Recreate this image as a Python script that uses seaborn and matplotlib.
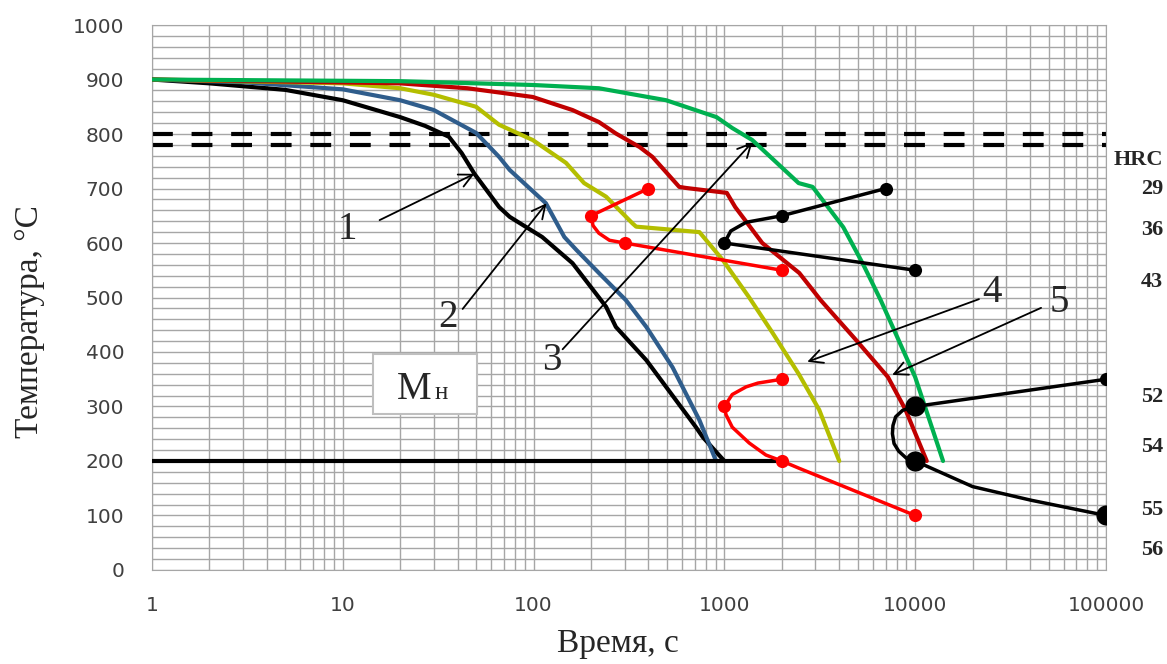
import numpy as np
import matplotlib
matplotlib.use('Agg')
import matplotlib.pyplot as plt
import matplotlib.ticker as mticker
from matplotlib.patches import Rectangle
import seaborn as sns

# curves 1..5 (time, s / temperature, C)
t1 = [1, 2, 5, 10, 20, 27, 36, 42, 49, 66, 75, 111, 160, 240, 270, 390, 495, 710, 770, 1000]
T1 = [900, 893, 881, 862, 831, 815, 795, 765, 727, 666, 648, 611, 563, 483, 446, 385, 336, 262, 244, 200]

t2 = [1, 3, 10, 20, 30, 50, 66, 75, 116, 145, 168, 220, 305, 390, 535, 740, 900]
T2 = [900, 895, 882, 862, 844, 802, 758, 734, 673, 611, 587, 545, 495, 446, 372, 275, 202]

t3 = [1, 10, 20, 30, 50, 66, 99, 148, 184, 240, 330, 345, 740, 980, 1350, 1790, 2450, 3140, 4000]
T3 = [900, 893, 884, 872, 850, 817, 789, 747, 710, 685, 636, 630, 620, 569, 500, 435, 360, 294, 200]

t4 = [1, 20, 45, 99, 160, 220, 270, 360, 420, 580, 630, 1030, 1140, 1580, 2470, 3200, 4900, 7200, 8900, 11500]
T4 = [900, 893, 884, 868, 844, 822, 801, 776, 758, 703, 701, 692, 666, 600, 545, 495, 422, 354, 294, 200]

t5 = [1, 20, 99, 220, 495, 910, 1100, 1400, 2450, 2900, 4200, 5300, 6600, 10000, 14000]
T5 = [900, 897, 890, 884, 862, 831, 811, 789, 710, 703, 629, 563, 495, 354, 200]

# Mн line and A1/A3 dashed levels
t_mn = [1, 2000]
T_mn = [200, 200]
t_lim = [1, 100000]
T_ac3 = [800, 800]
T_ac1 = [780, 780]

# red isothermal series (line path + marker points)
redA_t = [400, 200, 205, 220, 250, 300, 2000]
redA_T = [700, 650, 632, 618, 605, 600, 550]
redA_mt = [400, 200, 300, 2000]
redA_mT = [700, 650, 600, 550]

redB_t = [2000, 1500, 1300, 1100, 1000, 1020, 1100, 1350, 1650, 2000, 2450, 10000]
redB_T = [350, 343, 336, 322, 300, 285, 262, 233, 211, 200, 187, 100]
redB_mt = [2000, 1000, 2000, 10000]
redB_mT = [350, 300, 200, 100]

# black hardness series
blkC_t = [7000, 2000, 1300, 1080, 1000, 10000]
blkC_T = [700, 650, 638, 622, 600, 550]
blkC_mt = [7000, 2000, 1000, 10000]
blkC_mT = [700, 650, 600, 550]

blkD_t = [100000, 10000, 8600, 7900, 7650, 7600, 7750, 8200, 9000, 10000, 20000, 40500, 100000]
blkD_T = [350, 300, 293, 281, 265, 250, 232, 218, 205, 200, 153, 128, 100]
blkD_small_t = [100000]
blkD_small_T = [350]
blkD_big_t = [10000, 10000, 100000]
blkD_big_T = [300, 200, 100]

hrc_labels = ['HRC', '29', '36', '43', '52', '54', '55', '56']
hrc_y = [752, 700, 624, 528, 318, 226, 110, 37]

xticks = [1, 10, 100, 1000, 10000, 100000]

sns.set_style('white')
plt.rcParams['font.family'] = ['DejaVu Sans']

fig, ax = plt.subplots(figsize=(11.67, 6.64), dpi=100)
fig.subplots_adjust(left=0.1302, right=0.9477, bottom=0.1416, top=0.9623)

ax.set_xscale('log')
ax.set_xlim(1, 100000)
ax.set_ylim(0, 1000)

# grid
ax.set_xticks(xticks)
ax.xaxis.set_major_formatter(mticker.FixedFormatter([str(v) for v in xticks]))
ax.xaxis.set_minor_locator(mticker.LogLocator(base=10, subs=range(2, 10), numticks=20))
ax.xaxis.set_minor_formatter(mticker.NullFormatter())
ax.set_yticks(range(0, 1001, 100))
ax.yaxis.set_minor_locator(mticker.MultipleLocator(20))
ax.grid(which='both', color='#a6a6a6', lw=1.0, zorder=0)
ax.set_axisbelow(True)
ax.tick_params(which='both', length=0, labelsize=14.5, labelcolor='#404040')
ax.tick_params(axis='x', pad=19)
ax.tick_params(axis='y', pad=20)
for s in ax.spines.values():
    s.set_color('#a6a6a6')

# dashed critical points
for lv in (T_ac3, T_ac1):
    ax.plot(t_lim, lv, color='black', lw=3, ls=(0, (5, 4.5)), zorder=2)

# main cooling curves
lw = 3
sns.lineplot(x=t1, y=T1, sort=False, estimator=None, color='black', lw=lw, ax=ax, zorder=4)
sns.lineplot(x=t2, y=T2, sort=False, estimator=None, color='#2f5d8c', lw=lw, ax=ax, zorder=4)
sns.lineplot(x=t3, y=T3, sort=False, estimator=None, color='#b4be00', lw=lw, ax=ax, zorder=4)
sns.lineplot(x=t4, y=T4, sort=False, estimator=None, color='#c00000', lw=lw, ax=ax, zorder=4)
sns.lineplot(x=t5, y=T5, sort=False, estimator=None, color='#00b050', lw=lw, ax=ax, zorder=4)
sns.lineplot(x=t_mn, y=T_mn, sort=False, estimator=None, color='black', lw=lw, ax=ax, zorder=4)

# red series
sns.lineplot(x=redA_t, y=redA_T, sort=False, estimator=None, color='#ff0000', lw=2.5, ax=ax, zorder=5)
sns.scatterplot(x=redA_mt, y=redA_mT, color='#ff0000', s=90, linewidth=0, ax=ax, zorder=6)
sns.lineplot(x=redB_t, y=redB_T, sort=False, estimator=None, color='#ff0000', lw=2.5, ax=ax, zorder=5)
sns.scatterplot(x=redB_mt, y=redB_mT, color='#ff0000', s=90, linewidth=0, ax=ax, zorder=6)

# black series
sns.lineplot(x=blkC_t, y=blkC_T, sort=False, estimator=None, color='black', lw=2.5, ax=ax, zorder=5)
sns.scatterplot(x=blkC_mt, y=blkC_mT, color='black', s=90, linewidth=0, ax=ax, zorder=6)
sns.lineplot(x=blkD_t, y=blkD_T, sort=False, estimator=None, color='black', lw=2.5, ax=ax, zorder=5)
sns.scatterplot(x=blkD_small_t, y=blkD_small_T, color='black', s=90, linewidth=0, ax=ax, zorder=6)
sns.scatterplot(x=blkD_big_t, y=blkD_big_T, color='black', s=210, linewidth=0, ax=ax, zorder=6)

# curve numbers with arrows
serif = ['Liberation Serif', 'DejaVu Serif']
arrows = [
    ('1', (10.6, 624), (15.6, 642), (49, 727)),
    ('2', (35.5, 464), (42.5, 479), (117, 673)),
    ('3', (124, 385), (142, 405), (1403, 785)),
    ('4', (25300, 510), (21600, 497), (2720, 382)),
    ('5', (56700, 490), (45700, 481), (7580, 358)),
]
for lab, pos, start, tip in arrows:
    ax.text(pos[0], pos[1], lab, fontsize=28, family=serif, ha='center', va='center', zorder=7)
    ax.annotate('', xy=tip, xytext=start,
                arrowprops=dict(arrowstyle='->', lw=1.3, color='black',
                                shrinkA=0, shrinkB=0, mutation_scale=24), zorder=7)

# Мн box
ax.add_patch(Rectangle((0.2317, 0.2862), 0.109, 0.110, transform=ax.transAxes,
                       facecolor='white', edgecolor='#bfbfbf', lw=1.5, zorder=3))
ax.text(0.2746, 0.3138, 'М', transform=ax.transAxes, fontsize=28, family=serif,
        ha='center', va='baseline', zorder=4)
ax.text(0.3035, 0.3138, 'н', transform=ax.transAxes, fontsize=18, family=serif,
        ha='center', va='baseline', zorder=4)

# HRC column at right
tr = ax.get_yaxis_transform()
for lab, yv in zip(hrc_labels, hrc_y):
    ax.text(1.0598, yv, lab, transform=tr, fontsize=16, family=serif, fontweight='bold',
            ha='right', va='center')

ax.set_xlabel('Время, с', fontsize=24, family=serif)
ax.xaxis.set_label_coords(0.488, -0.108)
ax.set_ylabel('Температура, °C', fontsize=24, family=serif)
ax.yaxis.set_label_coords(-0.112, 0.455)

plt.savefig('out.png', dpi=100)
